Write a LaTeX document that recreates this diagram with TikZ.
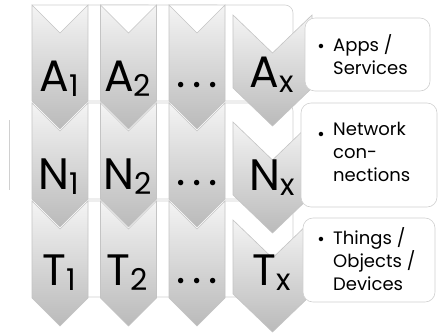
\documentclass[tikz,border=0pt]{standalone}
\usepackage{fontspec}
\setmainfont{Poppins}
\definecolor{chevtop}{RGB}{244,244,244}
\definecolor{chevbot}{RGB}{186,186,186}
\definecolor{chevline}{RGB}{196,196,196}
\definecolor{boxline}{RGB}{208,208,208}
\newcommand\mychev[5]{% xc, hw, ytop, depth, yside
  \path[chev] ({#1-#2},{#3}) -- ({#1},{#3+#4}) -- ({#1+#2},{#3}) -- ({#1+#2},{#5}) -- ({#1},{#5+#4}) -- ({#1-#2},{#5}) -- cycle;}
\newcommand\biglab[2]{#1\raisebox{-5pt}{\fontsize{30}{30}\selectfont #2}}
\newcommand\mydots{.\hspace{7pt}.\hspace{7pt}.}
\begin{document}
\begin{tikzpicture}[x=1pt,y=-1pt,
  chev/.style={draw=chevline,line width=0.6pt,top color=chevtop,bottom color=chevbot,line join=miter},
  bgbox/.style={draw=boxline,line width=0.6pt,fill=white,rounded corners=8pt},
  txtbox/.style={draw=boxline,line width=0.6pt,fill=white,rounded corners=10pt},
  lab/.style={font=\fontsize{44}{44}\selectfont,inner sep=0pt,anchor=base},
  bul/.style={font=\fontsize{18}{18}\selectfont,inner sep=0pt,anchor=base},
  btxt/.style={font=\fontsize{18}{23}\selectfont,inner sep=0pt,anchor=north west,align=left}]
\useasboundingbox (0,0) rectangle (438,333);
\fill[white] (0,0) rectangle (438,333);
\draw[boxline,line width=0.6pt] (9,120) -- (9,190);
% columns 1-3
\foreach \xc in {60,128.5,197}{
  \foreach \yt in {5,103,201}{
    \draw[boxline,line width=0.6pt,fill=white] (\xc-28,\yt) -- (\xc+88,\yt) arc[start angle=90,end angle=0,radius=8pt] -- (\xc+96,\yt+88) arc[start angle=0,end angle=-90,radius=8pt] -- (\xc-28,\yt+96);
  }
  \mychev{\xc}{28}{5}{28}{101}
  \mychev{\xc}{28}{103}{28}{199}
  \mychev{\xc}{28}{201}{28}{298}
}
% column x
\mychev{272.5}{39.5}{15}{38}{88}
\mychev{272.5}{39.5}{122}{38}{195}
\mychev{272.5}{39.5}{220}{38}{294}
\path[txtbox] (305,18) rectangle (430,91);
\path[txtbox] (301,103) rectangle (437,207);
\path[txtbox] (303,218) rectangle (435,302);
% labels
\node[lab] (a1) at (59,91) {\biglab{A}{1}};
\node[lab] (a2) at (127.5,91) {\biglab{A}{2}};
\node[lab] (ad) at (197,87) {\mydots};
\node[lab] (ax) at (272,87) {\biglab{A}{x}};
\node[lab] (n1) at (59,189) {\biglab{N}{1}};
\node[lab] (n2) at (127.5,189) {\biglab{N}{2}};
\node[lab] (nd) at (197,185) {\mydots};
\node[lab] (nx) at (272,190) {\biglab{N}{x}};
\node[lab] (t1) at (59,285) {\biglab{T}{1}};
\node[lab] (t2) at (127.5,285) {\biglab{T}{2}};
\node[lab] (td) at (197,283) {\mydots};
\node[lab] (tx) at (272,285) {\biglab{T}{x}};
% bullet texts
\node[bul] (b1) at (321,52) {•};
\node[btxt] (t1txt) at (333,34) {Apps /\\Services};
\node[bul] (b2) at (321,140) {•};
\node[btxt] (t2txt) at (333,122) {Network\\con-\\nections};
\node[bul] (b3) at (321,245) {•};
\node[btxt] (t3txt) at (333,227) {Things /\\Objects /\\Devices};
\end{tikzpicture}
\end{document}
